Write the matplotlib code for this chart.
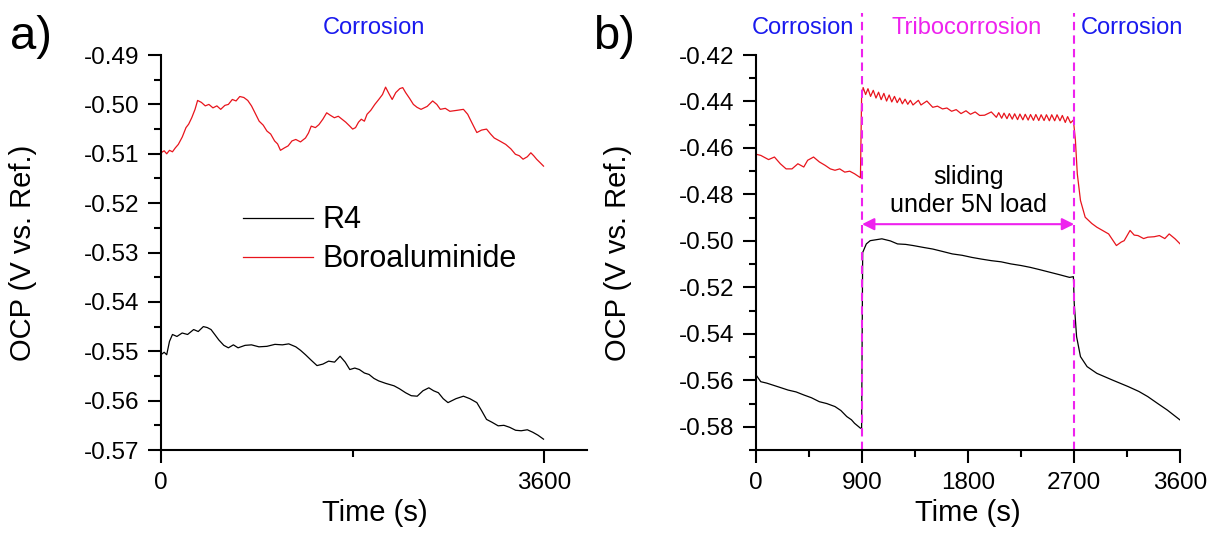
import numpy as np
import matplotlib
matplotlib.use("Agg")
import matplotlib.pyplot as plt
from matplotlib.ticker import MultipleLocator, FixedLocator

plt.rcParams["font.family"] = ["Liberation Sans", "DejaVu Sans"]

# ---- panel a: corrosion only ----
t_a_red = [0, 30, 54, 80, 108, 135, 163, 200, 235, 260, 289, 320, 344, 380, 416, 450, 488,
           525, 561, 600, 633, 670, 705, 740, 778, 815, 850, 885, 922, 960, 995, 1030,
           1067, 1095, 1122, 1160, 1194, 1230, 1266, 1310, 1357, 1385, 1411, 1450, 1483,
           1520, 1556, 1590, 1628, 1665, 1700, 1735, 1773, 1800, 1827, 1855, 1881, 1910,
           1935, 1970, 2008, 2045, 2080, 2109, 2140, 2171, 2205, 2243, 2270, 2297, 2335,
           2370, 2405, 2442, 2500, 2551, 2590, 2623, 2670, 2713, 2780, 2840, 2880, 2912,
           2940, 2966, 3010, 3057, 3095, 3129, 3180, 3237, 3285, 3328, 3365, 3400, 3440,
           3473, 3500, 3527, 3560, 3592]
v_a_red = [-0.5098, -0.5094, -0.5100, -0.5093, -0.5096, -0.5088, -0.5081, -0.5066, -0.5047,
           -0.5040, -0.5027, -0.5010, -0.4992, -0.4996, -0.5003, -0.5000, -0.5007, -0.5003,
           -0.5010, -0.5002, -0.5000, -0.4990, -0.4993, -0.4984, -0.4986, -0.4992, -0.5003,
           -0.5018, -0.5034, -0.5042, -0.5054, -0.5060, -0.5074, -0.5080, -0.5093, -0.5088,
           -0.5084, -0.5074, -0.5071, -0.5076, -0.5068, -0.5058, -0.5044, -0.5047, -0.5041,
           -0.5030, -0.5017, -0.5022, -0.5027, -0.5024, -0.5030, -0.5036, -0.5044, -0.5050,
           -0.5047, -0.5036, -0.5030, -0.5034, -0.5020, -0.5012, -0.5000, -0.4990, -0.4980,
           -0.4965, -0.4978, -0.4990, -0.4976, -0.4968, -0.4966, -0.4976, -0.4988, -0.5000,
           -0.5006, -0.5010, -0.5004, -0.4993, -0.5000, -0.5010, -0.5008, -0.5014, -0.5012,
           -0.5010, -0.5020, -0.5034, -0.5046, -0.5057, -0.5052, -0.5050, -0.5060, -0.5068,
           -0.5074, -0.5081, -0.5090, -0.5101, -0.5104, -0.5111, -0.5106, -0.5098, -0.5104,
           -0.5111, -0.5118, -0.5125]

t_a_blk = [0, 30, 54, 80, 108, 150, 199, 250, 307, 350, 398, 435, 470, 505, 543, 590, 633,
           680, 724, 790, 850, 920, 995, 1070, 1140, 1200, 1266, 1310, 1357, 1410, 1465,
           1520, 1574, 1630, 1682, 1730, 1773, 1820, 1863, 1910, 1954, 2000, 2044, 2110,
           2189, 2240, 2297, 2350, 2406, 2460, 2515, 2560, 2605, 2650, 2695, 2770, 2840,
           2900, 2966, 3010, 3057, 3110, 3166, 3220, 3274, 3330, 3382, 3440, 3491, 3540,
           3592]
v_a_blk = [-0.5507, -0.5502, -0.5507, -0.5480, -0.5466, -0.5470, -0.5463, -0.5466, -0.5456,
           -0.5460, -0.5450, -0.5452, -0.5456, -0.5466, -0.5477, -0.5488, -0.5493, -0.5487,
           -0.5493, -0.5488, -0.5487, -0.5491, -0.5490, -0.5486, -0.5487, -0.5485, -0.5491,
           -0.5498, -0.5507, -0.5518, -0.5529, -0.5526, -0.5520, -0.5522, -0.5510, -0.5522,
           -0.5537, -0.5534, -0.5537, -0.5544, -0.5547, -0.5555, -0.5560, -0.5565, -0.5570,
           -0.5576, -0.5584, -0.5590, -0.5591, -0.5580, -0.5574, -0.5580, -0.5584, -0.5596,
           -0.5604, -0.5596, -0.5591, -0.5596, -0.5604, -0.5620, -0.5638, -0.5644, -0.5651,
           -0.5650, -0.5654, -0.5660, -0.5661, -0.5659, -0.5664, -0.5670, -0.5678]

# ---- panel b: corrosion / tribocorrosion / corrosion ----
# red, three stretches
t_b_red_c1 = [0, 40, 106, 156, 206, 255, 305, 355, 405, 438, 488, 537, 587, 630, 670, 710,
              753, 795, 836, 886, 896, 909]
v_b_red_c1 = [-0.4627, -0.4632, -0.4650, -0.4639, -0.4668, -0.4690, -0.4690, -0.4668, -0.4682,
              -0.4653, -0.4639, -0.4660, -0.4675, -0.4690, -0.4696, -0.4690, -0.4704, -0.4700,
              -0.4711, -0.4728, -0.4380, -0.4340]
t_b_red_tr = [930, 950, 972, 995, 1018, 1040, 1062, 1085, 1108, 1130,
              1152, 1175, 1198, 1220, 1242, 1265, 1288, 1310, 1332, 1355,
              1378, 1400, 1450, 1500, 1540, 1583, 1620, 1660,
              1699, 1740, 1782, 1820, 1860, 1898, 1940, 1997,
              2040, 2060, 2085, 2105, 2130, 2150, 2175, 2195, 2220, 2240,
              2265, 2285, 2310, 2330, 2355, 2375, 2400, 2420, 2445, 2465,
              2490, 2510, 2535, 2555, 2580, 2600, 2625, 2645, 2670, 2694]
v_b_red_tr = [-0.4370, -0.4345, -0.4378, -0.4352, -0.4385, -0.4360, -0.4392, -0.4365, -0.4398,
              -0.4372, -0.4402, -0.4378, -0.4405, -0.4385, -0.4410, -0.4390, -0.4412, -0.4395,
              -0.4415, -0.4405, -0.4395, -0.4415, -0.4398, -0.4425, -0.4420, -0.4432, -0.4428,
              -0.4442, -0.4435, -0.4452, -0.4440, -0.4455, -0.4445, -0.4460, -0.4459, -0.4445,
              -0.4468, -0.4448, -0.4472, -0.4450, -0.4474, -0.4452, -0.4476, -0.4453, -0.4478,
              -0.4454, -0.4479, -0.4455, -0.4480, -0.4456, -0.4481, -0.4456, -0.4482, -0.4457,
              -0.4482, -0.4457, -0.4483, -0.4457, -0.4483, -0.4457, -0.4483, -0.4460, -0.4490,
              -0.4465, -0.4492, -0.4480]
t_b_red_c2 = [2711, 2727, 2754, 2794, 2850, 2893, 2993, 3059, 3100, 3125, 3175, 3210, 3242,
              3290, 3325, 3380, 3424, 3470, 3507, 3557, 3600]
v_b_red_c2 = [-0.4567, -0.4711, -0.4826, -0.4898, -0.4925, -0.4941, -0.4970, -0.5020, -0.5005,
              -0.4999, -0.4955, -0.4975, -0.4977, -0.4990, -0.4984, -0.4982, -0.4977, -0.4990,
              -0.4970, -0.4991, -0.5013]

t_b_blk = [0, 40, 90, 139, 200, 272, 340, 405, 470, 537, 600, 670, 720, 770, 810, 836,
           886, 896, 905, 936, 969, 1068, 1140, 1201, 1270, 1334, 1420, 1500, 1580, 1666,
           1750, 1832, 1910, 1997, 2080, 2163, 2250, 2329, 2410, 2495, 2580, 2661, 2694,
           2701, 2721, 2754, 2810, 2893, 3026, 3159, 3250, 3325, 3410, 3491, 3600]
v_b_blk = [-0.5577, -0.5606, -0.5612, -0.5620, -0.5630, -0.5642, -0.5650, -0.5663, -0.5675,
           -0.5692, -0.5700, -0.5713, -0.5730, -0.5756, -0.5770, -0.5785, -0.5806, -0.5806,
           -0.5050, -0.5013, -0.4999, -0.4991, -0.5000, -0.5013, -0.5015, -0.5020, -0.5028,
           -0.5035, -0.5045, -0.5056, -0.5062, -0.5071, -0.5078, -0.5085, -0.5090, -0.5099,
           -0.5106, -0.5114, -0.5124, -0.5135, -0.5146, -0.5157, -0.5154,
           -0.5269, -0.5412, -0.5498, -0.5541, -0.5570, -0.5599, -0.5627, -0.5648, -0.5670,
           -0.5700, -0.5728, -0.5771]

phase_edges = [900, 2700]
phase_labels = ["Corrosion", "Tribocorrosion", "Corrosion"]
phase_label_x = [400, 1790, 3190]
phase_colors = ["#1a1aee", "#ee22ee", "#1a1aee"]

RED = "#e8141c"
MAG = "#ee22ee"
BLUE = "#1a1aee"
TICK_FS = 17.5
LABEL_FS = 21

fig = plt.figure(figsize=(12.13, 5.47), dpi=100)
ax1 = fig.add_axes([0.1327, 0.1773, 0.3512, 0.7221])
ax2 = fig.add_axes([0.6233, 0.1773, 0.3496, 0.7221])

for ax in (ax1, ax2):
    for s in ("top", "right"):
        ax.spines[s].set_visible(False)
    for s in ("left", "bottom"):
        ax.spines[s].set_linewidth(1.5)
    ax.tick_params(which="major", length=9.5, width=1.5, labelsize=TICK_FS, pad=6)
    ax.tick_params(which="minor", length=5, width=1.5)
    ax.set_xlabel("Time (s)", fontsize=LABEL_FS)
    ax.set_ylabel("OCP (V vs. Ref.)", fontsize=LABEL_FS)

# panel a
ax1.plot(t_a_blk, v_a_blk, color="black", lw=0.9, label="R4")
ax1.plot(t_a_red, v_a_red, color=RED, lw=0.9, label="Boroaluminide")
ax1.set_xlim(0, 4000)
ax1.set_ylim(-0.57, -0.49)
ax1.xaxis.set_major_locator(FixedLocator([0, 3600]))
ax1.xaxis.set_minor_locator(FixedLocator([1800]))
ax1.yaxis.set_major_locator(MultipleLocator(0.01))
ax1.yaxis.set_minor_locator(MultipleLocator(0.005))
ax1.yaxis.set_major_formatter(plt.FuncFormatter(lambda v, p: f"{v:.2f}"))
ax1.xaxis.set_label_coords(0.502, -0.125)
ax1.yaxis.set_label_coords(-0.29, 0.5)
ax1.text(2000, 1.068, "Corrosion", color=BLUE, fontsize=17, ha="center", va="center",
         transform=ax1.get_xaxis_transform())
ax1.legend(loc="center left", bbox_to_anchor=(0.1925, 0.532), frameon=False,
           fontsize=22, handlelength=2.3, handletextpad=0.3, labelspacing=0.3,
           borderpad=0, borderaxespad=0)

# panel b
ax2.plot(t_b_blk, v_b_blk, color="black", lw=0.9)
ax2.plot(t_b_red_c1 + t_b_red_tr + t_b_red_c2, v_b_red_c1 + v_b_red_tr + v_b_red_c2,
         color=RED, lw=0.9)
ax2.set_xlim(0, 3600)
ax2.set_ylim(-0.59, -0.42)
ax2.xaxis.set_major_locator(MultipleLocator(900))
ax2.xaxis.set_minor_locator(MultipleLocator(450))
ax2.yaxis.set_major_locator(MultipleLocator(0.02))
ax2.yaxis.set_minor_locator(MultipleLocator(0.01))
ax2.yaxis.set_major_formatter(plt.FuncFormatter(lambda v, p: f"{v:.2f}"))
ax2.xaxis.set_label_coords(0.5, -0.125)
ax2.yaxis.set_label_coords(-0.292, 0.5)

trans = ax2.get_xaxis_transform()
for xe in phase_edges:
    ax2.plot([xe, xe], [0, 1.106], color=MAG, lw=1.5, ls=(0, (4, 2.5)),
             transform=trans, clip_on=False)
for lab, xl, c in zip(phase_labels, phase_label_x, phase_colors):
    ax2.text(xl, 1.068, lab, color=c, fontsize=17, ha="center", va="center",
             transform=trans, clip_on=False)

ax2.annotate("", xy=(phase_edges[0], -0.4928), xytext=(phase_edges[1], -0.4928),
             arrowprops=dict(arrowstyle="<|-|>", color=MAG, lw=1.5, mutation_scale=18,
                             shrinkA=0, shrinkB=0))
ax2.text(1800, -0.4725, "sliding", fontsize=18, ha="center", va="center")
ax2.text(1800, -0.4846, "under 5N load", fontsize=18, ha="center", va="center")

fig.text(0.0256, 0.932, "a)", fontsize=34, ha="center", va="center")
fig.text(0.506, 0.932, "b)", fontsize=34, ha="center", va="center")

fig.savefig("out.png", dpi=100)
